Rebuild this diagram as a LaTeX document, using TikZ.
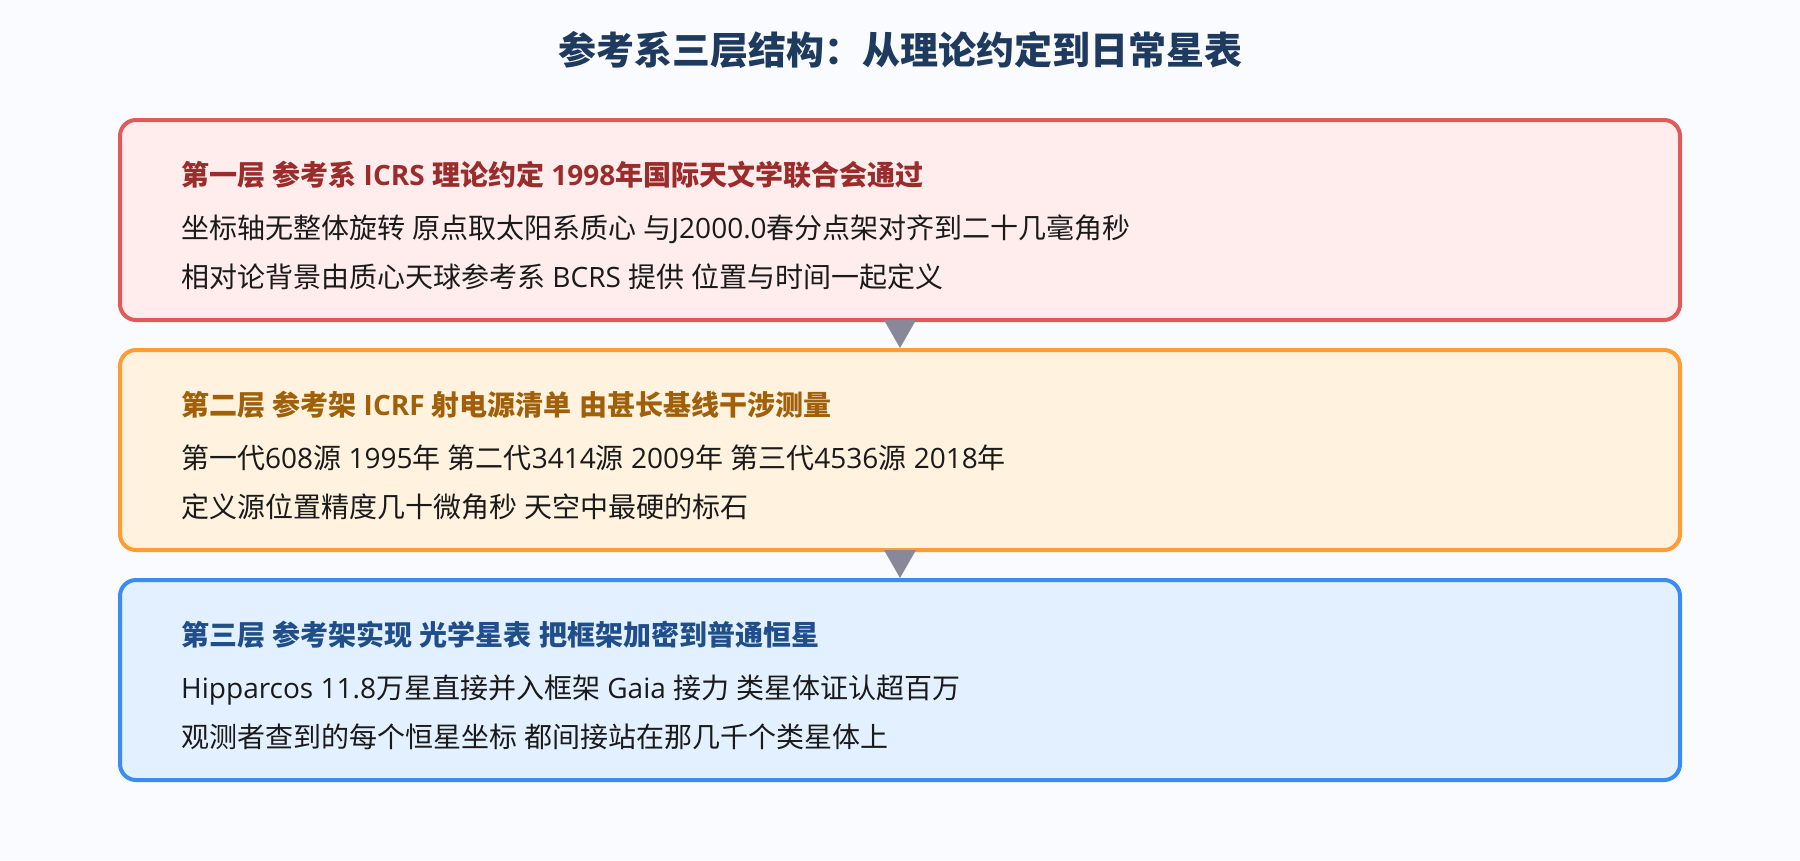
\documentclass[tikz,border=0pt]{standalone}
\usepackage{fontspec}
\setmainfont{Open Sans}
\newfontfamily\cjkfont{Noto Sans CJK SC}
% CJK characters go to the CJK family, everything else stays in the main font
\XeTeXinterchartokenstate=1
\newXeTeXintercharclass\cjkclass
\newcount\cjkcode
\cjkcode="3000
\loop \XeTeXcharclass\cjkcode=\cjkclass \ifnum\cjkcode<"303F \advance\cjkcode by 1 \repeat
\cjkcode="4E00
\loop \XeTeXcharclass\cjkcode=\cjkclass \ifnum\cjkcode<"9FFF \advance\cjkcode by 1 \repeat
\cjkcode="FF00
\loop \XeTeXcharclass\cjkcode=\cjkclass \ifnum\cjkcode<"FFEF \advance\cjkcode by 1 \repeat
\XeTeXinterchartoks 0 \cjkclass = {\cjkfont}
\XeTeXinterchartoks 4095 \cjkclass = {\cjkfont}
\XeTeXinterchartoks \cjkclass 0 = {\rmfamily}
\XeTeXinterchartoks \cjkclass 4095 = {\rmfamily}
\definecolor{pagebg}{HTML}{FAFBFF}
\definecolor{titleblue}{HTML}{1E3A5F}
\definecolor{bodytext}{HTML}{1A1A1A}
\definecolor{tipgray}{HTML}{888899}
\definecolor{redline}{HTML}{E05A5A}
\definecolor{redfill}{HTML}{FFEDED}
\definecolor{redhead}{HTML}{9B2C2C}
\definecolor{ambline}{HTML}{FF9C33}
\definecolor{ambfill}{HTML}{FFF2DE}
\definecolor{ambhead}{HTML}{A0600A}
\definecolor{blueline}{HTML}{3B8BF5}
\definecolor{bluefill}{HTML}{E3F0FF}
\definecolor{bluehead}{HTML}{1F4E8A}
\tikzset{
  tier/.style 2 args={
    draw=#1, fill=#2, line width=4pt, rounded corners=16pt,
    minimum width=1560pt, minimum height=200pt, inner sep=0pt
  },
  headline/.style={
    anchor=base west, inner sep=0pt, text=#1,
    font=\fontsize{28}{34}\selectfont\bfseries
  },
  bodyline/.style={
    anchor=base west, inner sep=0pt, text=bodytext,
    font=\fontsize{28}{34}\selectfont
  },
  flowtip/.style={fill=tipgray}
}
\begin{document}
\begin{tikzpicture}[x=1pt,y=-1pt]
\newcommand{\tierx}{900}
\newcommand{\tiery}{220}
\newcommand{\tiersep}{230}
\newcommand{\textx}{181}

\fill [pagebg] (0,0) rectangle (1800,860);
\useasboundingbox (0,0) rectangle (1800,860);
\node [anchor=base, inner sep=0pt, text=titleblue, font=\fontsize{38}{44}\selectfont\bfseries]
  (title) at (900,64) {参考系三层结构：从理论约定到日常星表};

\node [tier={redline}{redfill}] (tier1) at (\tierx,\tiery) {};
\node [tier={ambline}{ambfill}] (tier2) at (\tierx,\tiery+\tiersep) {};
\node [tier={blueline}{bluefill}] (tier3) at (\tierx,\tiery+2*\tiersep) {};

\fill [flowtip] ([xshift=-16pt,yshift=2pt]tier1.south) -- ([xshift=16pt,yshift=2pt]tier1.south) -- (tier2.north) -- cycle;
\fill [flowtip] ([xshift=-16pt,yshift=2pt]tier2.south) -- ([xshift=16pt,yshift=2pt]tier2.south) -- (tier3.north) -- cycle;

\node [headline=redhead] (head1) at (\textx,185) {第一层 参考系 ICRS 理论约定 1998年国际天文学联合会通过};
\node [bodyline] (body1a) at (\textx,238) {坐标轴无整体旋转 原点取太阳系质心 与J2000.0春分点架对齐到二十几毫角秒};
\node [bodyline] (body1b) at (\textx,287) {相对论背景由质心天球参考系 BCRS 提供 位置与时间一起定义};

\node [headline=ambhead] (head2) at (\textx,185+\tiersep) {第二层 参考架 ICRF 射电源清单 由甚长基线干涉测量};
\node [bodyline] (body2a) at (\textx,238+\tiersep) {第一代608源 1995年 第二代3414源 2009年 第三代4536源 2018年};
\node [bodyline] (body2b) at (\textx,287+\tiersep) {定义源位置精度几十微角秒 天空中最硬的标石};

\node [headline=bluehead] (head3) at (\textx,185+2*\tiersep) {第三层 参考架实现 光学星表 把框架加密到普通恒星};
\node [bodyline] (body3a) at (\textx,238+2*\tiersep) {Hipparcos 11.8万星直接并入框架 Gaia 接力 类星体证认超百万};
\node [bodyline] (body3b) at (\textx,287+2*\tiersep) {观测者查到的每个恒星坐标 都间接站在那几千个类星体上};
\end{tikzpicture}
\end{document}
